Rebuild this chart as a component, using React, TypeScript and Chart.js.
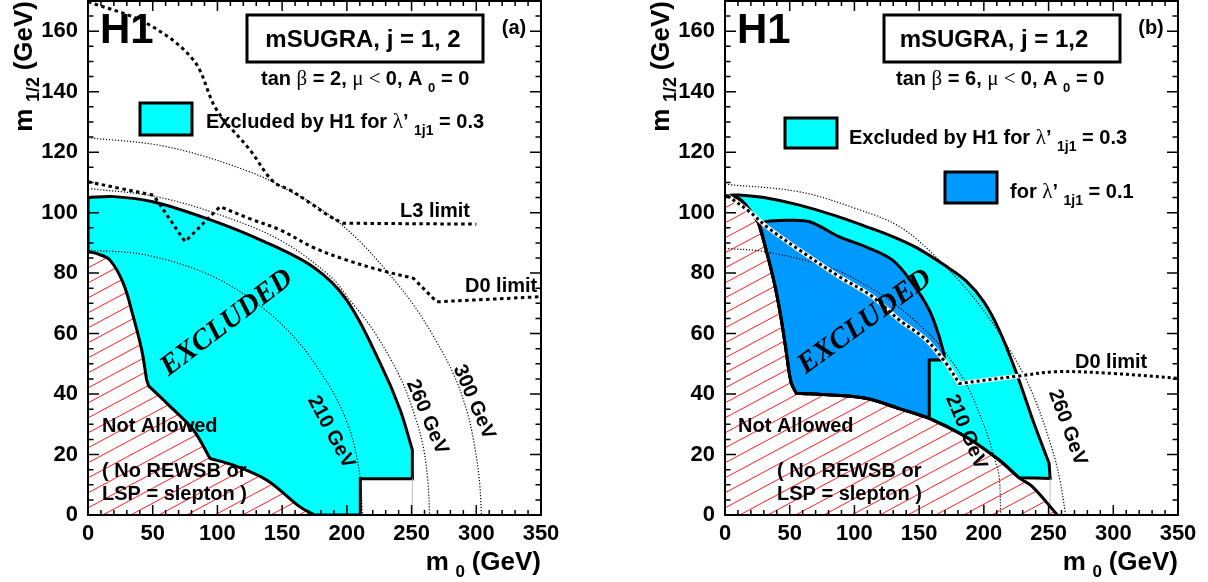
import React, { useEffect, useRef } from "react";
import { Chart, registerables } from "chart.js";
Chart.register(...registerables);

type P = [number, number];

// ---------- axes ----------
const xTickValues = [0, 50, 100, 150, 200, 250, 300, 350];
const yTickValues = [0, 20, 40, 60, 80, 100, 120, 140, 160];
const xRange: P = [0, 350];
const yRange: P = [0, 170];

// ---------- panel (a): tan beta = 2 ----------
const aNaUpper: P[] = [[0, 87.1], [8, 86.3], [17, 84.3], [27.3, 76.6], [35, 65.6], [41.5, 54.6], [45.3, 44.7]];
const aNaStep: P[] = [[45.3, 44.7], [47, 42.6]];
const aNaMiddle: P[] = [[47, 42.6], [60.8, 37], [81.4, 28.1], [94.3, 18.7]];
const aNaLower: P[] = [[94.3, 18.7], [112.3, 16.5], [138, 11.6], [163.8, 2.7], [175, 0]];
const aLeftEdge: P[] = [[0, 87.1], [0, 105]];
const aOuter: P[] = [[0, 105], [20, 105.3], [50, 103.6], [92, 98], [133, 91], [174, 82], [200, 71], [226, 50], [241, 35], [250.6, 21.5]];
const aBox: P[] = [[250.6, 21.5], [250.6, 12], [210.4, 12], [210.4, 0], [175, 0]];
const aGrey: P[] = [[250.6, 0], [250.6, 12]];
const aC210: P[] = [[0, 87.6], [45, 86], [97, 78.8], [138, 67.5], [164, 56.5], [180, 47], [192, 38.5], [202, 28.5], [208, 18.5], [210.5, 11], [212, 0]];
const aC260: P[] = [[0, 108], [50, 105.5], [97, 100], [148, 91], [187, 79], [202.5, 71], [220.5, 61], [241, 45.7], [252, 33.5], [259, 22.6], [262.5, 11.5], [264, 0]];
const aC300: P[] = [[0, 124.8], [61, 121.8], [125, 113.5], [164, 105.3], [187, 99], [210, 90.5], [231, 80.5], [249, 71], [265, 60.5], [282, 47], [293, 34], [299, 22], [302.5, 11], [304, 0]];
const aL3Curve: P[] = [[0, 169.8], [45.3, 162.6], [81.4, 150.5], [99.4, 134], [125.2, 120.7], [143.2, 110.2], [156, 107.5], [174, 102.5], [187, 98.7], [197, 96.5]];
const aL3Flat: P[] = [[197, 96.5], [300, 96.2]];
const aD0Start: P[] = [[0, 110.2], [25, 108], [50.5, 105.8]];
const aD0Dip: P[] = [[50.5, 105.8], [75, 90.4], [102, 102]];
const aD0Mid: P[] = [[102, 102], [125, 98], [148.4, 94.3], [174, 88.5], [200, 84.3], [225.6, 81], [251.4, 78.3]];
const aD0End: P[] = [[251.4, 78.3], [269.4, 70.5], [350, 72.2]];

// ---------- panel (b): tan beta = 6 ----------
const bNa1: P[] = [[0, 105.5], [10, 104.8], [18, 101.5], [26, 96.5]];
const bNa2: P[] = [[26, 96.5], [31, 89], [38, 77], [43, 66], [47, 55], [51, 44], [55, 40.3]];
const bNa3: P[] = [[55, 40.3], [83.3, 39.7], [109, 38.6], [134.7, 35.2], [157.8, 32]];
const bNa4: P[] = [[157.8, 32], [186, 25.9], [211.8, 18.2], [227.3, 12.3]];
const bNa5: P[] = [[227.3, 12.3], [237.5, 9.4], [256.8, 0]];
const bOuter: P[] = [[0, 105.5], [6.4, 105.8], [11.3, 105.8], [30, 105], [57.6, 102.5], [85, 99], [108.9, 95.4], [130, 92], [147.6, 88.5], [170, 82.5], [186, 77.5], [200, 70.5], [212, 61], [224.7, 47.5], [239, 30], [250.4, 17.1]];
const bBox: P[] = [[250.4, 17.1], [251.2, 12.1], [227.3, 12.3]];
const bBlueTop: P[] = [[26, 96.5], [35, 97.2], [47.3, 97.5], [65.3, 97], [88.4, 92], [108.9, 88.7], [129.5, 84.3], [144.9, 76.6], [157.8, 67.8], [165.5, 59], [169.3, 52.9]];
const bBlueNotch: P[] = [[169.3, 52.9], [169.3, 51.3], [157.8, 51.3], [157.8, 32]];
const bGrey: P[] = [[251.2, 0], [251.2, 12.1]];
const bC210: P[] = [[0, 88.2], [32, 87], [83, 81.5], [115, 74.5], [135, 68.5], [155, 61], [168, 55], [186, 43.6], [201.5, 28.1], [208, 19], [211.8, 12.7], [213, 0]];
const bC260: P[] = [[0, 109.4], [57.4, 106.9], [100, 101.5], [134.7, 95.4], [165, 84.5], [193.8, 71], [219.5, 55], [237.5, 40.3], [253, 21.5], [259, 11], [263.2, 0]];
const bD0Diag: P[] = [[2, 105.5], [19, 100.3], [32, 95.4], [57.6, 87.6], [88.4, 78.8], [114, 72.2], [134.7, 64.5], [155.3, 58], [170.7, 50.2], [181, 43.5]];
const bD0Flat: P[] = [[181, 43.5], [227.3, 46], [256, 47.4], [300, 46.8], [350, 45.2]];

// ---------- helpers ----------
const cat = (...segs: P[][]): P[] => ([] as P[]).concat(...segs);
const smooth = (...segs: P[][]): P[] => segs.reduce((acc, s, i) => acc.concat(i === 0 ? s : s.slice(1)), [] as P[]);
const sharp = (pts: P[]): P[] => pts.flatMap((p, i) => (i === 0 || i === pts.length - 1 ? [p] : [p, p]));
const rev = (pts: P[]): P[] => [...pts].reverse();
const toXY = (pts: P[]) => pts.map(([x, y]) => ({ x, y }));

const SANS = '"Liberation Sans", Arial, Helvetica, sans-serif';
const SERIF = '"Liberation Serif", "Times New Roman", serif';
const bold = (px: number) => `bold ${px}px ${SANS}`;
const CYAN = "#00ffff";
const BLUE = "#0099ff";

function area(pts: P[], fillColor: any, order: number, bw = 3) {
  return {
    data: toXY(pts), showLine: true, fill: "shape", backgroundColor: fillColor,
    borderColor: bw ? "#000" : "rgba(0,0,0,0)", borderWidth: bw, pointRadius: 0,
    tension: 0.35, order, borderJoinStyle: "miter",
  };
}
function curve(pts: P[], color: string, width: number, dash: number[], order: number) {
  return {
    data: toXY(pts), showLine: true, fill: false, borderColor: color, borderWidth: width,
    borderDash: dash, pointRadius: 0, tension: 0.35, order, borderCapStyle: "butt",
  };
}

function makeHatch(): CanvasPattern | string {
  const c = document.createElement("canvas");
  const w = 28, h = 15;
  c.width = w; c.height = h;
  const g = c.getContext("2d");
  if (!g) return "rgba(255,0,0,0.2)";
  g.strokeStyle = "#ff2020";
  g.lineWidth = 1;
  for (const dy of [-h, 0, h]) {
    g.beginPath(); g.moveTo(0, h + dy); g.lineTo(w, dy); g.stroke();
  }
  return g.createPattern(c, "repeat") || "rgba(255,0,0,0.2)";
}

const DOT_THIN = [1.2, 1.8];
const DOT_THICK = [3.5, 3.5];

function datasetsA(hatch: any) {
  return [
    area(cat([[0, 0], [0, 87.1]], aNaUpper, aNaStep, aNaMiddle, aNaLower, [[175, 0], [0, 0]]), hatch, 10, 0),
    area(cat(aLeftEdge, aOuter, sharp(aBox), rev(aNaLower), rev(aNaMiddle), rev(aNaStep), rev(aNaUpper)), CYAN, 9),
    curve(aGrey, "#bbbbbb", 1, [], 7),
    curve(aC210, "#000", 1.2, DOT_THIN, 5),
    curve(aC260, "#000", 1.2, DOT_THIN, 5),
    curve(aC300, "#000", 1.2, DOT_THIN, 5),
    curve(cat(aL3Curve, aL3Flat), "#000", 3, DOT_THICK, 3),
    curve(cat(aD0Start, sharp(aD0Dip), aD0Mid, sharp(aD0End)), "#000", 3, DOT_THICK, 3),
  ];
}

function datasetsB(hatch: any) {
  return [
    area(cat([[0, 0], [0, 105.5]], smooth(bNa1, bNa2), smooth(bNa3, bNa4, bNa5), [[256.8, 0], [0, 0]]), hatch, 10, 0),
    area(cat(bOuter, sharp(bBox), rev(bNa4), rev(bNa3), rev(bNa2), rev(bNa1)), CYAN, 9),
    area(cat(bBlueTop, sharp(bBlueNotch), rev(bNa3), rev(bNa2)), BLUE, 8),
    curve(bGrey, "#bbbbbb", 1, [], 7),
    curve(cat(smooth(bNa1, bNa2), smooth(bNa3, bNa4, bNa5)), "#000", 3, [], 6),
    curve(bC210, "#000", 1.2, DOT_THIN, 5),
    curve(bC260, "#000", 1.2, DOT_THIN, 5),
    curve(cat(bD0Diag, bD0Flat), "#ffffff", 4.5, [], 4),
    curve(cat(bD0Diag, bD0Flat), "#000", 3, [3, 3], 3),
  ];
}

type Part = [string, string, number];
function parts(ctx: CanvasRenderingContext2D, x: number, y: number, list: Part[]) {
  let cx = x;
  for (const [t, f, dy] of list) {
    ctx.font = f;
    ctx.fillText(t, cx, y + dy);
    cx += ctx.measureText(t).width;
  }
  return cx;
}
function partsWidth(ctx: CanvasRenderingContext2D, list: Part[]) {
  let w = 0;
  for (const [t, f] of list) { ctx.font = f; w += ctx.measureText(t).width; }
  return w;
}
function rot(ctx: CanvasRenderingContext2D, text: string, font: string, cx: number, cy: number, deg: number) {
  ctx.save();
  ctx.translate(cx, cy);
  ctx.rotate((deg * Math.PI) / 180);
  ctx.font = font;
  ctx.textAlign = "center";
  ctx.textBaseline = "middle";
  ctx.fillText(text, 0, 0);
  ctx.restore();
}
function lambdaParts(prefix: string, value: string): Part[] {
  return [
    [prefix, bold(20), 0],
    ["\u03BB", `21px ${SERIF}`, 0],
    ["\u2019 ", bold(20), 0],
    ["1j1", bold(14), 7],
    [" = " + value, bold(20), 0],
  ];
}

function decor(panel: "a" | "b") {
  return {
    id: "decor" + panel,
    afterDraw(chart: any) {
      const ctx: CanvasRenderingContext2D = chart.ctx;
      const { left, right, top, bottom } = chart.chartArea;
      const xs = chart.scales.x, ys = chart.scales.y;
      ctx.save();
      ctx.strokeStyle = "#000";
      ctx.fillStyle = "#000";
      // inward ticks on all four sides
      ctx.lineWidth = 1.5;
      ctx.beginPath();
      for (let v = xRange[0]; v <= xRange[1]; v += 10) {
        const px = xs.getPixelForValue(v);
        const len = v % 50 === 0 ? 10 : 5;
        ctx.moveTo(px, bottom); ctx.lineTo(px, bottom - len);
        ctx.moveTo(px, top); ctx.lineTo(px, top + len);
      }
      for (let v = yRange[0]; v <= yRange[1]; v += 5) {
        const py = ys.getPixelForValue(v);
        const len = v % 20 === 0 ? 11 : 5.5;
        ctx.moveTo(left, py); ctx.lineTo(left + len, py);
        ctx.moveTo(right, py); ctx.lineTo(right - len, py);
      }
      ctx.stroke();
      ctx.lineWidth = 2;
      ctx.strokeRect(left, top, right - left, bottom - top);

      ctx.textAlign = "left";
      ctx.textBaseline = "alphabetic";

      // axis titles
      const xt: Part[] = [["m", bold(26), 0], ["  ", bold(12), 0], ["0", bold(17), 7], ["  ", bold(12), 0], ["(GeV)", bold(26), 0]];
      parts(ctx, right - partsWidth(ctx, xt), 570, xt);
      const yt: Part[] = [["m", bold(26), 0], ["  ", bold(12), 0], ["1/2", bold(18), 7], ["  ", bold(12), 0], ["(GeV)", bold(26), 0]];
      ctx.save();
      ctx.translate(32, top);
      ctx.rotate(-Math.PI / 2);
      parts(ctx, -partsWidth(ctx, yt), 0, yt);
      ctx.restore();

      // H1 logo
      ctx.font = bold(42);
      ctx.fillText("H1", 100, 43);

      // title box
      ctx.lineWidth = 3;
      ctx.strokeRect(247, 15, 236, 47);
      ctx.font = bold(24);
      ctx.textAlign = "center";
      ctx.fillText(panel === "a" ? "mSUGRA, j = 1, 2" : "mSUGRA, j = 1,2", panel === "a" ? 363 : 357, 47);
      ctx.font = bold(20);
      ctx.fillText(panel === "a" ? "(a)" : "(b)", 514, 34);
      ctx.textAlign = "left";

      // tan beta line
      const tb = panel === "a" ? "2" : "6";
      parts(ctx, panel === "a" ? 261 : 259, 85, [
        ["tan ", bold(20), 0], ["\u03B2", `21px ${SERIF}`, 0], [" = " + tb + ", ", bold(20), 0],
        ["\u03BC", `21px ${SERIF}`, 0], [" < ", `21px ${SERIF}`, 0], ["0, A ", bold(20), 0],
        ["0", bold(13), 7], [" = 0", bold(20), 0],
      ]);

      // legends
      ctx.lineWidth = 3;
      if (panel === "a") {
        ctx.fillStyle = CYAN; ctx.fillRect(140, 103, 52, 32);
        ctx.strokeRect(140, 103, 52, 32);
        ctx.fillStyle = "#000";
        parts(ctx, 206, 128, lambdaParts("Excluded by H1 for ", "0.3"));
      } else {
        ctx.fillStyle = CYAN; ctx.fillRect(148, 118, 52, 30);
        ctx.strokeRect(148, 118, 52, 30);
        ctx.fillStyle = BLUE; ctx.fillRect(308, 172, 52, 31);
        ctx.strokeRect(308, 172, 52, 31);
        ctx.fillStyle = "#000";
        parts(ctx, 212, 144, lambdaParts("Excluded by H1 for ", "0.3"));
        parts(ctx, 373, 198, lambdaParts("for ", "0.1"));
      }

      // region labels
      ctx.font = bold(20);
      if (panel === "a") {
        ctx.fillText("L3 limit", 400, 217);
        ctx.fillText("D0 limit", 465, 292);
        ctx.fillText("Not Allowed", 102, 432);
        ctx.fillText("( No REWSB or", 102, 477);
        ctx.fillText("LSP = slepton )", 102, 500);
        rot(ctx, "EXCLUDED", `italic bold 29px ${SERIF}`, 227, 323, -37);
        rot(ctx, "210 GeV", bold(20), 331, 432, 62);
        rot(ctx, "260 GeV", bold(20), 427, 417, 67);
        rot(ctx, "300 GeV", bold(20), 474, 402, 66.5);
      } else {
        ctx.fillText("D0 limit", 438, 368);
        ctx.fillText("Not Allowed", 101, 432);
        ctx.fillText("( No REWSB or", 140, 477);
        ctx.fillText("LSP = slepton )", 140, 500);
        rot(ctx, "EXCLUDED", `italic bold 29px ${SERIF}`, 228, 322, -36);
        rot(ctx, "210 GeV", bold(20), 329, 432, 67.5);
        rot(ctx, "260 GeV", bold(20), 430.5, 427.5, 70);
      }
      ctx.restore();
    },
  };
}

function buildConfig(panel: "a" | "b"): any {
  const hatch = makeHatch();
  const tickFont = { family: SANS, size: 22, weight: "bold" as const };
  return {
    type: "scatter",
    data: { datasets: panel === "a" ? datasetsA(hatch) : datasetsB(hatch) },
    options: {
      responsive: false,
      animation: false,
      devicePixelRatio: 1,
      events: [],
      layout: { padding: { left: 0, right: 63, top: 1, bottom: 0 } },
      elements: { point: { radius: 0 } },
      plugins: { legend: { display: false }, tooltip: { enabled: false } },
      scales: {
        x: {
          type: "linear", position: "bottom", min: xRange[0], max: xRange[1],
          afterBuildTicks: (s: any) => { s.ticks = xTickValues.map((v) => ({ value: v })); },
          afterFit: (s: any) => { s.height = 67; s.paddingLeft = 0; s.paddingRight = 0; },
          grid: { display: false, drawTicks: false },
          border: { display: false },
          ticks: { font: tickFont, color: "#000", padding: 6, maxRotation: 0, autoSkip: false },
        },
        y: {
          type: "linear", position: "left", min: yRange[0], max: yRange[1],
          afterBuildTicks: (s: any) => { s.ticks = yTickValues.map((v) => ({ value: v })); },
          afterFit: (s: any) => { s.width = 88; s.paddingTop = 0; s.paddingBottom = 0; },
          grid: { display: false, drawTicks: false },
          border: { display: false },
          ticks: { font: tickFont, color: "#000", padding: 10, autoSkip: false },
        },
      },
    },
    plugins: [decor(panel)],
  };
}

function Panel({ panel, left }: { panel: "a" | "b"; left: number }) {
  const ref = useRef<HTMLCanvasElement>(null);
  useEffect(() => {
    if (!ref.current) return;
    const chart = new Chart(ref.current, buildConfig(panel));
    return () => chart.destroy();
  }, [panel]);
  return (
    <canvas
      ref={ref}
      width={604}
      height={582}
      style={{ position: "absolute", left, top: 0, width: 604, height: 582 }}
    />
  );
}

export default function App() {
  return (
    <div style={{ position: "fixed", left: 0, top: 0, width: 1208, height: 582, overflow: "hidden", background: "#fff" }}>
      <Panel panel="a" left={0} />
      <Panel panel="b" left={637} />
    </div>
  );
}
